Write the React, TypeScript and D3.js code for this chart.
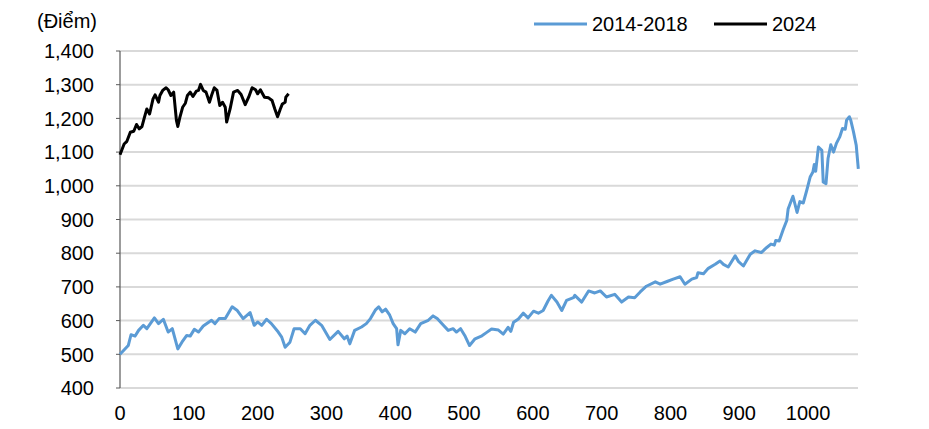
import React from "react";
import * as d3 from "d3";

// 2014-2018 series: [day index, points]
const blueDays = [0, 12, 16, 22, 27, 34, 39, 50, 56, 63, 70, 76, 84, 90, 97, 102, 108, 114, 121, 133, 138, 144, 153, 163, 170, 179, 189, 195, 200, 206, 213, 220, 230, 235, 240, 247, 253, 262, 269, 276, 284, 293, 305, 317, 326, 330, 334, 341, 351, 358, 364, 371, 376, 381, 386, 392, 397, 402, 404, 408, 414, 421, 429, 437, 448, 455, 461, 470, 477, 484, 489, 495, 501, 508, 516, 526, 533, 540, 550, 557, 564, 568, 572, 579, 586, 593, 601, 608, 615, 622, 627, 635, 642, 649, 659, 661, 671, 681, 690, 698, 707, 719, 729, 739, 748, 756, 765, 778, 785, 795, 804, 814, 821, 831, 838, 840, 848, 855, 865, 872, 877, 884, 894, 899, 906, 916, 923, 932, 940, 946, 951, 953, 958, 964, 969, 971, 978, 984, 988, 993, 998, 1003, 1007, 1009, 1011, 1015, 1020, 1022, 1026, 1029, 1033, 1037, 1041, 1046, 1050, 1054, 1056, 1060, 1062, 1066, 1070, 1071, 1073];
const blueValues = [500, 526, 558, 554, 571, 586, 576, 608, 591, 604, 566, 576, 516, 536, 556, 554, 574, 566, 584, 601, 591, 606, 606, 641, 631, 606, 624, 586, 596, 586, 604, 591, 566, 551, 521, 536, 576, 576, 561, 586, 601, 586, 544, 568, 546, 554, 531, 571, 581, 591, 606, 631, 641, 626, 634, 616, 591, 576, 528, 571, 561, 576, 566, 591, 601, 614, 606, 586, 571, 576, 566, 576, 556, 526, 546, 555, 565, 575, 572, 560, 580, 568, 595, 605, 622, 608, 628, 622, 630, 658, 675, 655, 630, 660, 668, 675, 655, 688, 682, 688, 670, 678, 655, 670, 668, 685, 702, 715, 708, 716, 723, 730, 708, 723, 728, 742, 739, 755, 767, 777, 767, 759, 792, 775, 762, 797, 807, 802, 817, 827, 824, 838, 836, 871, 897, 931, 969, 921, 953, 949, 986, 1026, 1041, 1063, 1043, 1115, 1105, 1011, 1006, 1081, 1122, 1100, 1125, 1145, 1170, 1168, 1195, 1205, 1195, 1160, 1120, 1096, 1050];

// 2024 series
const blackDays = [0, 6, 10, 15, 20, 24, 28, 32, 35, 39, 43, 48, 51, 56, 58, 62, 67, 70, 74, 78, 82, 84, 87, 91, 95, 98, 102, 106, 111, 114, 117, 121, 125, 130, 133, 137, 141, 145, 149, 153, 155, 160, 165, 171, 176, 182, 187, 192, 197, 200, 204, 210, 216, 221, 225, 229, 233, 236, 240, 241, 245];
const blackValues = [1092, 1124, 1132, 1159, 1162, 1182, 1169, 1176, 1199, 1228, 1213, 1258, 1270, 1248, 1268, 1283, 1291, 1285, 1268, 1278, 1194, 1176, 1203, 1233, 1245, 1268, 1278, 1265, 1281, 1283, 1301, 1283, 1278, 1248, 1268, 1291, 1283, 1238, 1248, 1233, 1189, 1228, 1278, 1283, 1271, 1241, 1263, 1291, 1285, 1273, 1285, 1263, 1261, 1253, 1228, 1205, 1228, 1243, 1248, 1263, 1273];

const yTicks = [400, 500, 600, 700, 800, 900, 1000, 1100, 1200, 1300, 1400];
const xTicks = [0, 100, 200, 300, 400, 500, 600, 700, 800, 900, 1000];
const seriesNames = ["2014-2018", "2024"];
const unitLabel = "(Điểm)";

export default function App() {
  const W = 929, H = 429;
  const x = d3.scaleLinear().domain([0, 1074]).range([120, 859]);
  const y = d3.scaleLinear().domain([400, 1400]).range([388, 51]);
  const fmt = d3.format(",");
  const line = d3.line<[number, number]>().x(d => x(d[0])).y(d => y(d[1]));
  const blue = line(blueDays.map((d, i) => [d, blueValues[i]]));
  const black = line(blackDays.map((d, i) => [d, blackValues[i]]));
  const font = "'Liberation Sans', Arial, sans-serif";
  return (
    <svg width={W} height={H} style={{ position: "absolute", left: 0, top: 0 }} fontFamily={font}>
      <rect width={W} height={H} fill="#fff" />
      {yTicks.map(t => (
        <g key={t}>
          <line x1={x(0)} x2={x(1074) - 1} y1={y(t)} y2={y(t)} stroke="#d9d9d9" strokeWidth={2} />
          <line x1={116} x2={x(0)} y1={y(t)} y2={y(t)} stroke="#595959" strokeWidth={1} />
          <text x={94} y={y(t)} dy="0.36em" textAnchor="end" fontSize={20} fill="#000">{fmt(t)}</text>
        </g>
      ))}
      <line x1={x(0)} x2={x(0)} y1={y(1400)} y2={y(400)} stroke="#595959" strokeWidth={1.2} />
      {xTicks.map(t => (
        <text key={t} x={x(t)} y={413} dy="0.36em" textAnchor="middle" fontSize={20} fill="#000">{t}</text>
      ))}
      <path d={blue || ""} fill="none" stroke="#5B9BD5" strokeWidth={3} strokeLinejoin="round" />
      <path d={black || ""} fill="none" stroke="#000" strokeWidth={3} strokeLinejoin="round" />
      <text x={37} y={28} fontSize={20} fill="#000">{unitLabel}</text>
      <line x1={534} x2={587} y1={24} y2={24} stroke="#5B9BD5" strokeWidth={3} />
      <text x={592} y={24} dy="0.36em" fontSize={20} fill="#000">{seriesNames[0]}</text>
      <line x1={714} x2={767} y1={24} y2={24} stroke="#000" strokeWidth={3} />
      <text x={772} y={24} dy="0.36em" fontSize={20} fill="#000">{seriesNames[1]}</text>
    </svg>
  );
}
